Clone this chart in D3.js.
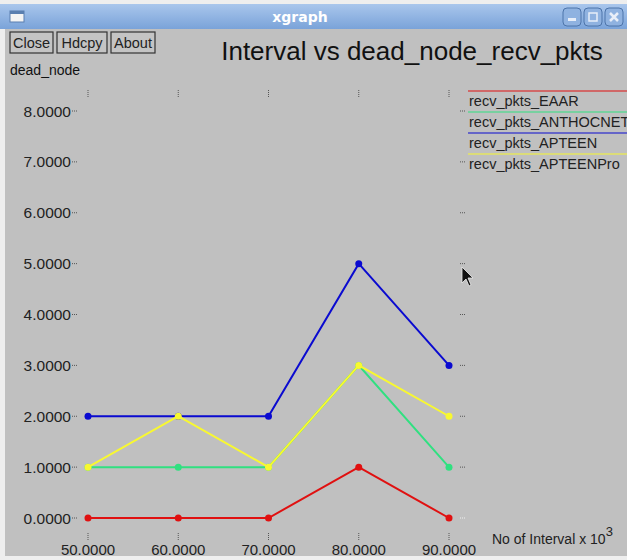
<!DOCTYPE html>
<html>
<head>
<meta charset="utf-8"/>
<title>xgraph</title>
<script src="https://d3js.org/d3.v7.min.js"></script>
<style>
  body { margin: 0; background: #ffffff; }
  svg { display: block; font-family: "Liberation Sans", Arial, sans-serif; }
</style>
</head>
<body>
<svg id="chart" width="627" height="560"></svg>
<script>
// data
var intervals = [50, 60, 70, 80, 90];
var yTicks = [0, 1, 2, 3, 4, 5, 6, 7, 8];
var eaar      = [0, 0, 0, 1, 0];
var anthocnet = [1, 1, 1, 3, 1];
var apteen    = [2, 2, 2, 5, 3];
var apteenPro = [1, 2, 1, 3, 2];
var seriesNames = ["recv_pkts_EAAR", "recv_pkts_ANTHOCNET", "recv_pkts_APTEEN", "recv_pkts_APTEENPro"];
var seriesColors = ["#e01010", "#30e080", "#0a0ad0", "#f8f830"];

var series = [eaar, anthocnet, apteen, apteenPro].map(function (v, i) {
    return { name: seriesNames[i], color: seriesColors[i], values: v };
});

var svg = d3.select("#chart");

// window frame
svg.append("rect").attr("width", 627).attr("height", 560).attr("fill", "#eeeeee");
svg.append("rect").attr("x", 5).attr("y", 29).attr("width", 622).attr("height", 527).attr("fill", "#c0c0c0");

var grad = svg.append("defs").append("linearGradient")
    .attr("id", "tb").attr("x1", 0).attr("y1", 0).attr("x2", 0).attr("y2", 1);
grad.append("stop").attr("offset", 0).attr("stop-color", "#a9c6ec");
grad.append("stop").attr("offset", 1).attr("stop-color", "#7aa3d9");
svg.append("rect").attr("x", 0).attr("y", 4).attr("width", 627).attr("height", 25).attr("fill", "url(#tb)");
svg.append("text").attr("x", 300).attr("y", 22).attr("text-anchor", "middle")
    .attr("fill", "white").attr("font-weight", "bold").attr("font-size", 14)
    .attr("font-family", "DejaVu Sans").text("xgraph");
// window icon
svg.append("rect").attr("x", 10).attr("y", 11).attr("width", 14).attr("height", 11)
    .attr("fill", "#f4f4f4").attr("stroke", "#5a7fb0");
svg.append("rect").attr("x", 10).attr("y", 11).attr("width", 14).attr("height", 3).attr("fill", "#5a7fb0");
// title bar buttons
[563, 584, 605].forEach(function (bx, i) {
    svg.append("rect").attr("x", bx).attr("y", 8).attr("width", 18).attr("height", 18).attr("rx", 4)
        .attr("fill", "#8fb2e0").attr("stroke", "#4d74aa");
    if (i == 0) svg.append("rect").attr("x", bx + 5).attr("y", 18).attr("width", 8).attr("height", 3).attr("fill", "#e8eef8");
    if (i == 1) svg.append("rect").attr("x", bx + 5).attr("y", 13).attr("width", 8).attr("height", 8).attr("fill", "none").attr("stroke", "#e8eef8").attr("stroke-width", 1.5);
    if (i == 2) svg.append("path").attr("d", "M" + (bx + 5) + ",13 l8,8 M" + (bx + 13) + ",13 l-8,8").attr("stroke", "#e8eef8").attr("stroke-width", 2.5);
});

// xgraph buttons
var buttons = [["Close", 10, 43], ["Hdcpy", 57, 50], ["About", 111, 44]];
buttons.forEach(function (b) {
    svg.append("rect").attr("x", b[1]).attr("y", 32).attr("width", b[2]).attr("height", 21)
        .attr("fill", "#c4c4c4").attr("stroke", "#333").attr("stroke-width", 1.2);
    svg.append("text").attr("x", b[1] + b[2] / 2).attr("y", 48).attr("text-anchor", "middle")
        .attr("font-size", 14.5).attr("fill", "#222").text(b[0]);
});

svg.append("text").attr("x", 412).attr("y", 60).attr("text-anchor", "middle")
    .attr("font-size", 26).attr("fill", "#111").text("Interval vs dead_node_recv_pkts");
svg.append("text").attr("x", 10).attr("y", 75).attr("font-size", 14).attr("fill", "#111").text("dead_node");

// scales
var x = d3.scaleLinear().domain([50, 90]).range([88, 449]);
var y = d3.scaleLinear().domain([0, 8]).range([518, 111]);
var fmt = d3.format(".4f");

// y tick labels + small ticks on both sides
var yt = svg.append("g");
yTicks.forEach(function (t) {
    yt.append("text").attr("x", 71).attr("y", y(t) + 5.5).attr("text-anchor", "end")
        .attr("font-size", 15.5).attr("fill", "#222").text(fmt(t));
    yt.append("line").attr("x1", 72).attr("x2", 78).attr("y1", y(t)).attr("y2", y(t))
        .attr("stroke", "#555").attr("stroke-dasharray", "1,1");
    yt.append("line").attr("x1", 460).attr("x2", 466).attr("y1", y(t)).attr("y2", y(t))
        .attr("stroke", t == 0 ? "#f0f0f0" : "#555").attr("stroke-dasharray", "1,1");
});

// x tick labels + small ticks top and bottom
var xt = svg.append("g");
intervals.forEach(function (t) {
    xt.append("text").attr("x", x(t)).attr("y", 555).attr("text-anchor", "middle")
        .attr("font-size", 15).attr("fill", "#222").text(fmt(t));
    xt.append("line").attr("x1", x(t)).attr("x2", x(t)).attr("y1", 533).attr("y2", 540)
        .attr("stroke", "#555").attr("stroke-dasharray", "1,1");
    xt.append("line").attr("x1", x(t)).attr("x2", x(t)).attr("y1", 90).attr("y2", 97)
        .attr("stroke", "#555").attr("stroke-dasharray", "1,1");
});

var xl = svg.append("text").attr("x", 492).attr("y", 544).attr("font-size", 14).attr("fill", "#222");
xl.append("tspan").text("No of Interval x 10");
xl.append("tspan").attr("dy", -8).attr("font-size", 13).text("3");

// lines and points
var line = d3.line().x(function (d, i) { return x(intervals[i]); }).y(function (d) { return y(d); });
series.forEach(function (s) {
    var g = svg.append("g");
    g.append("path").attr("d", line(s.values)).attr("fill", "none")
        .attr("stroke", s.color).attr("stroke-width", 2);
    g.selectAll("circle").data(s.values).enter().append("circle")
        .attr("cx", function (d, i) { return x(intervals[i]); })
        .attr("cy", function (d) { return y(d); })
        .attr("r", 3.5).attr("fill", s.color);
});

// legend
series.forEach(function (s, i) {
    var ly = 91 + i * 21;
    svg.append("line").attr("x1", 468).attr("x2", 627).attr("y1", ly).attr("y2", ly)
        .attr("stroke", s.color).attr("stroke-width", 1.2);
    svg.append("text").attr("x", 469).attr("y", ly + 15).attr("font-size", 14.5)
        .attr("fill", "#222").text(s.name);
});

// mouse pointer
svg.append("path").attr("d", "M462,267 L462,283 L466,279 L469,286 L471,285 L468,278 L473,278 Z")
    .attr("fill", "#111").attr("stroke", "#eee").attr("stroke-width", 0.8);
</script>
</body>
</html>
